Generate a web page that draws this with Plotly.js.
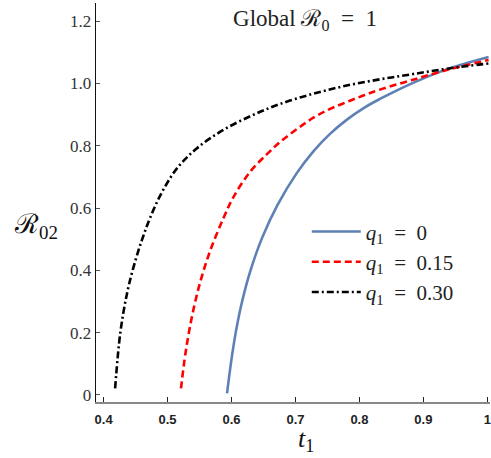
<!DOCTYPE html>
<html>
<head>
<meta charset="utf-8">
<script src="https://cdn.plot.ly/plotly-3.0.1.min.js"></script>
<style>
  html, body { margin: 0; padding: 0; background: #fff; }
  #chart { width: 491px; height: 458px; }
</style>
</head>
<body>
<div id="chart"></div>
<script>
// R02 as a function of t1 for three values of q1 (global R0 = 1)
const t1_q0   = [0.593, 0.600, 0.607, 0.616, 0.629, 0.648, 0.672, 0.702, 0.728, 0.754, 0.780, 0.806, 0.832, 0.858, 0.892, 0.942, 1.002];
const r02_q0  = [0.005, 0.115, 0.205, 0.295, 0.395, 0.505, 0.610, 0.712, 0.782, 0.838, 0.883, 0.920, 0.950, 0.977, 1.009, 1.049, 1.085];

const t1_q15  = [0.521, 0.528, 0.538, 0.551, 0.567, 0.5875, 0.603, 0.629, 0.655, 0.676, 0.702, 0.728, 0.754, 0.780, 0.806, 0.832, 0.884, 0.942, 1.002];
const r02_q15 = [0.021, 0.134, 0.250, 0.362, 0.465, 0.568, 0.635, 0.716, 0.772, 0.812, 0.853, 0.890, 0.918, 0.940, 0.961, 0.980, 1.012, 1.046, 1.075];

const t1_q30  = [0.418, 0.426, 0.4366, 0.447, 0.460, 0.473, 0.491, 0.515, 0.546, 0.5875, 0.634, 0.676, 0.728, 0.780, 0.832, 0.884, 0.940, 1.002];
const r02_q30 = [0.021, 0.198, 0.326, 0.412, 0.498, 0.570, 0.650, 0.728, 0.792, 0.851, 0.899, 0.934, 0.967, 0.993, 1.013, 1.030, 1.048, 1.064];

const seriesNames = ['<i>q</i><sub>1</sub>  =  0', '<i>q</i><sub>1</sub>  =  0.15', '<i>q</i><sub>1</sub>  =  0.30'];

const xTickVals = [0.4, 0.5, 0.6, 0.7, 0.8, 0.9, 1.0];
const xTickText = ['0.4', '0.5', '0.6', '0.7', '0.8', '0.9', '1'];
const yTickVals = [0, 0.2, 0.4, 0.6, 0.8, 1.0, 1.2];
const yTickText = ['0', '0.2', '0.4', '0.6', '0.8', '1.0', '1.2'];

const SERIF = 'Liberation Serif, DejaVu Serif, serif';
const SANS = 'Liberation Sans, Arial, sans-serif';

const traces = [
  { x: t1_q0,  y: r02_q0,  name: seriesNames[0], mode: 'lines', line: { color: '#5e81b5', width: 2.6, shape: 'spline', smoothing: 1 } },
  { x: t1_q15, y: r02_q15, name: seriesNames[1], mode: 'lines', line: { color: '#ff0000', width: 2.6, dash: '7px,4px', shape: 'spline', smoothing: 1 } },
  { x: t1_q30, y: r02_q30, name: seriesNames[2], mode: 'lines', line: { color: '#000000', width: 2.6, dash: '7px,3px,2px,3px', shape: 'spline', smoothing: 1 } }
];

const layout = {
  width: 491, height: 458,
  margin: { l: 96, r: 1, t: 3, b: 56 },
  paper_bgcolor: '#fff', plot_bgcolor: '#fff',
  showlegend: true,
  legend: {
    x: 0.535, y: 0.478, xanchor: 'left', yanchor: 'top',
    bgcolor: 'rgba(0,0,0,0)',
    itemwidth: 49,
    font: { family: SERIF, size: 21, color: '#222' },
    tracegroupgap: 0
  },
  title: {
    text: 'Global ℛ<sub>0</sub>  =  1',
    x: 305 / 491, xref: 'container', xanchor: 'center',
    y: 1 - 18 / 458, yref: 'container', yanchor: 'middle',
    font: { family: SERIF, size: 23, color: '#222' }
  },
  xaxis: {
    range: [0.3881, 1.0042],
    showgrid: false, zeroline: false,
    showline: true, linecolor: '#888', linewidth: 2,
    ticks: 'inside', ticklen: 5, tickcolor: '#222', tickwidth: 1,
    ticklabelstandoff: 4,
    tickvals: xTickVals, ticktext: xTickText,
    tickfont: { family: SANS, size: 13, color: '#222', weight: 'bold' }
  },
  yaxis: {
    range: [-0.0225, 1.258],
    showgrid: false, zeroline: false,
    showline: true, linecolor: '#111', linewidth: 1.3,
    ticks: 'inside', ticklen: 4, tickcolor: '#555', tickwidth: 1,
    tickvals: yTickVals, ticktext: yTickText,
    tickfont: { family: SERIF, size: 17, color: '#333' }
  },
  annotations: [
    {
      text: 'ℛ<sub>02</sub>', xref: 'paper', yref: 'paper',
      x: (36 - 95.7) / 394.3, y: (402 - 226) / 399,
      xanchor: 'center', yanchor: 'middle', showarrow: false,
      font: { family: SERIF, size: 27, color: '#111' }
    },
    {
      text: '<i>t</i><sub>1</sub>', xref: 'paper', yref: 'paper',
      x: (306 - 95.7) / 394.3, y: (402 - 440) / 399,
      xanchor: 'center', yanchor: 'middle', showarrow: false,
      font: { family: SERIF, size: 26, color: '#111' }
    }
  ]
};

Plotly.newPlot('chart', traces, layout, { displayModeBar: false, staticPlot: true });
</script>
</body>
</html>
